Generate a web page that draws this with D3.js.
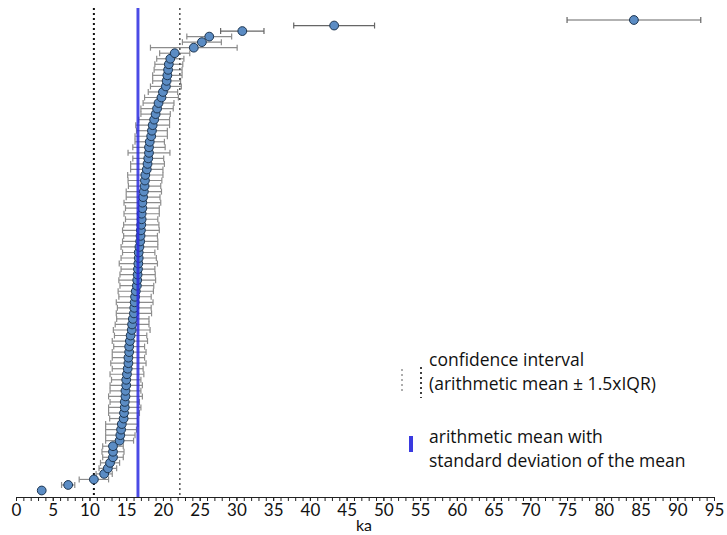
<!DOCTYPE html>
<html>
<head>
<meta charset="utf-8">
<script src="https://cdn.jsdelivr.net/npm/d3@7"></script>
<style>
  body { margin: 0; background: #fff; }
  text { font-family: Lato, "Open Sans", sans-serif; fill: #111; }
</style>
</head>
<body>
<div id="chart"></div>
<script>
var w = 727, h = 535;

// ages (ka), sorted from bottom row to top row
var ages = [3.5, 7.1, 10.6, 12.0, 12.5, 12.8, 13.2, 13.2, 13.2, 14.1, 14.2, 14.3, 14.4, 14.65, 14.7,
    14.8, 14.8, 14.9, 14.9, 15.0, 15.0, 15.1, 15.2, 15.3, 15.3, 15.4, 15.4, 15.5, 15.6, 15.75,
    15.8, 15.9, 16.05, 16.1, 16.15, 16.2, 16.3, 16.45, 16.5, 16.55, 16.6, 16.65, 16.7, 16.7, 16.8,
    16.9, 16.95, 17.0, 17.05, 17.1, 17.1, 17.2, 17.2, 17.3, 17.4, 17.5, 17.55, 17.6, 17.8, 17.9,
    18.0, 18.1, 18.1, 18.2, 18.4, 18.5, 18.6, 18.8, 19.0, 19.2, 19.4, 19.8, 20.0, 20.4, 20.5,
    20.6, 20.7, 20.8, 21.0, 21.6, 24.2, 25.3, 26.3, 30.8, 43.3, 84.1];
// half width of each error bar (ka)
var errors = [0.3, 0.9, 2.0, 1.1, 1.2, 1.3, 1.4, 1.5, 1.4, 1.9, 2.0, 2.1, 2.2, 1.9, 2.1,
    2.2, 2.0, 2.3, 2.1, 2.2, 2.0, 2.3, 2.1, 2.4, 2.2, 2.3, 2.1, 2.4, 2.2, 2.5,
    2.3, 2.2, 2.4, 2.3, 2.5, 2.2, 2.4, 2.3, 2.5, 2.4, 2.3, 2.6, 2.4, 2.2, 2.5,
    2.4, 2.3, 2.5, 2.4, 2.2, 2.4, 2.3, 2.5, 2.3, 2.4, 2.2, 2.3, 2.4, 2.2, 2.3,
    2.1, 2.85, 2.2, 2.0, 2.2, 2.1, 2.3, 2.1, 2.0, 2.2, 2.1, 2.3, 2.0, 2.1, 1.9,
    2.0, 1.9, 1.9, 1.85, 2.05, 5.9, 2.65, 3.05, 2.95, 5.5, 9.1];

var meanAge = 16.6, meanSd = 0.2;
var ciLow = 10.6, ciHigh = 22.3;
var xTicks = d3.range(0, 96, 5);
var xMinor = d3.range(0, 96, 1);
var legendLines = [["confidence interval", "(arithmetic mean \u00b1 1.5xIQR)"],
    ["arithmetic mean with", "standard deviation of the mean"]];

var svg = d3.select("#chart").append("svg")
    .attr("width", w)
    .attr("height", h);

var x = d3.scaleLinear().domain([0, 95]).range([16, 714]);
var y = d3.scalePoint().domain(d3.range(ages.length)).range([490.5, 20]);
var axisY = 497, topY = 8;

//ERROR BARS
var bars = svg.append("g").attr("class", "errbars")
    .selectAll("g").data(ages).enter().append("g")
    .attr("stroke", function (d) { return d > 30 ? "#666" : "#8c8c8c"; })
    .attr("stroke-width", 1.2);
bars.append("line")
    .attr("x1", function (d, i) { return x(d - errors[i]); })
    .attr("x2", function (d, i) { return x(d + errors[i]); })
    .attr("y1", function (d, i) { return y(i); })
    .attr("y2", function (d, i) { return y(i); });
bars.append("line")
    .attr("x1", function (d, i) { return x(d - errors[i]); })
    .attr("x2", function (d, i) { return x(d - errors[i]); })
    .attr("y1", function (d, i) { return y(i) - 3; })
    .attr("y2", function (d, i) { return y(i) + 3; });
bars.append("line")
    .attr("x1", function (d, i) { return x(d + errors[i]); })
    .attr("x2", function (d, i) { return x(d + errors[i]); })
    .attr("y1", function (d, i) { return y(i) - 3; })
    .attr("y2", function (d, i) { return y(i) + 3; });

//CONFIDENCE INTERVAL LINES
svg.append("line")
    .attr("x1", x(ciLow)).attr("x2", x(ciLow))
    .attr("y1", topY).attr("y2", axisY)
    .attr("stroke", "#111").attr("stroke-width", 2)
    .attr("stroke-dasharray", "2,3");
svg.append("line")
    .attr("x1", x(ciHigh)).attr("x2", x(ciHigh))
    .attr("y1", topY).attr("y2", axisY)
    .attr("stroke", "#333").attr("stroke-width", 1.3)
    .attr("stroke-dasharray", "2,3");

//POINTS
svg.append("g").selectAll("circle").data(ages).enter().append("circle")
    .attr("cx", function (d) { return x(d); })
    .attr("cy", function (d, i) { return y(i); })
    .attr("r", 4.4)
    .attr("fill", "#5b8cc4")
    .attr("stroke", "#1d3550")
    .attr("stroke-width", 1);

//MEAN LINE
svg.append("rect")
    .attr("x", x(meanAge - meanSd))
    .attr("width", x(meanAge + meanSd) - x(meanAge - meanSd))
    .attr("y", topY)
    .attr("height", axisY - topY)
    .attr("fill", "#2b2be0")
    .attr("opacity", 0.85);

//AXIS
svg.append("g")
    .attr("transform", "translate(0," + axisY + ")")
    .call(d3.axisBottom(x).tickValues(xMinor).tickSize(4).tickFormat(""))
    .call(function (g) { g.selectAll("line,path").attr("stroke", "#222"); });
var ax = svg.append("g")
    .attr("transform", "translate(0," + axisY + ")")
    .call(d3.axisBottom(x).tickValues(xTicks).tickSize(4).tickPadding(3));
ax.select(".domain").remove();
ax.selectAll("line").attr("stroke", "#222");
ax.selectAll("text").style("font-size", "17px").attr("fill", "#111")
    .style("font-family", "Lato, 'Open Sans', sans-serif");

svg.append("text")
    .attr("x", 364).attr("y", 531)
    .attr("text-anchor", "middle")
    .style("font-size", "16px")
    .text("ka");

//LEGEND
svg.append("line")
    .attr("x1", 402).attr("x2", 402).attr("y1", 369).attr("y2", 394)
    .attr("stroke", "#777").attr("stroke-width", 1.2).attr("stroke-dasharray", "2,3");
svg.append("line")
    .attr("x1", 421).attr("x2", 421).attr("y1", 367).attr("y2", 398)
    .attr("stroke", "#111").attr("stroke-width", 1.6).attr("stroke-dasharray", "2,3");
svg.append("rect")
    .attr("x", 409).attr("y", 436).attr("width", 4).attr("height", 16)
    .attr("fill", "#3a3ae0");

var legendY = [366, 443];
legendLines.forEach(function (lines, k) {
    lines.forEach(function (t, j) {
        svg.append("text")
            .attr("x", 429)
            .attr("y", legendY[k] + j * 24)
            .style("font-size", "17.5px")
            .style("font-family", "'Open Sans', Lato, sans-serif")
            .text(t);
    });
});
</script>
</body>
</html>
